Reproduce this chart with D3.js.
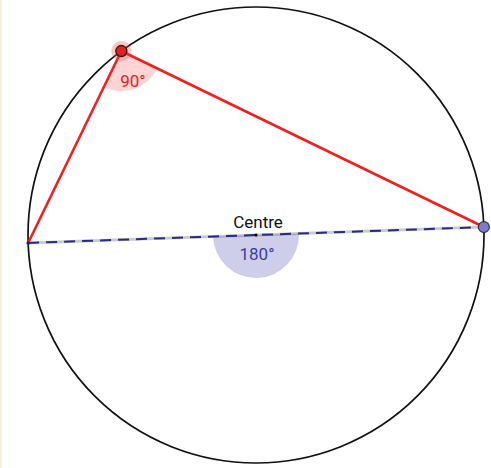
<!DOCTYPE html>
<html>
<head>
<meta charset="utf-8">
<script src="https://cdn.jsdelivr.net/npm/d3@7"></script>
<style>
  html, body { margin: 0; padding: 0; background: #fff; }
  svg { display: block; font-family: Roboto, "Noto Sans", sans-serif; }
</style>
</head>
<body>
<svg id="chart"></svg>
<script>
// points on the unit circle, angles in degrees (counter-clockwise from +x)
const pointNames = ["A", "B", "C"];
const pointAngles = [182, 2, 126.2];
const angleLabels = ["90°", "180°"];
const centreLabel = "Centre";

const width = 491, height = 468;
const cx = 256, cy = 235, R = 228;

const svg = d3.select("#chart").attr("width", width).attr("height", height);

// left border strip
svg.append("rect").attr("x", 0).attr("y", 0).attr("width", 2).attr("height", height).attr("fill", "#fcefe0");

const xScale = d3.scaleLinear().domain([-1, 1]).range([cx - R, cx + R]);
const yScale = d3.scaleLinear().domain([-1, 1]).range([cy + R, cy - R]);

const pts = pointAngles.map((a, i) => {
    const t = a * Math.PI / 180;
    return {name: pointNames[i], x: xScale(Math.cos(t)), y: yScale(Math.sin(t))};
});
const [A, B, C] = pts;
const O = {x: xScale(0), y: yScale(0)};

// d3.arc angle: clockwise from 12 o'clock
function dAngle(from, to) {
    return Math.atan2(to.x - from.x, -(to.y - from.y));
}

// circle
svg.append("circle").attr("cx", O.x).attr("cy", O.y).attr("r", xScale(1) - xScale(0))
    .attr("fill", "none").attr("stroke", "#111").attr("stroke-width", 1.7);

// semicircle at centre (below the diameter)
let s0 = dAngle(O, B), s1 = dAngle(O, A);
if (s1 < s0) s1 += 2 * Math.PI;
svg.append("path").attr("transform", `translate(${O.x},${O.y})`)
    .attr("d", d3.arc().innerRadius(0).outerRadius(43).startAngle(s0).endAngle(s1)())
    .attr("fill", "rgba(60,60,170,0.25)");

// right angle sector at C
let r0 = dAngle(C, B), r1 = dAngle(C, A);
if (r1 < r0) r1 += 2 * Math.PI;
svg.append("path").attr("transform", `translate(${C.x},${C.y})`)
    .attr("d", d3.arc().innerRadius(0).outerRadius(40).startAngle(r0).endAngle(r1)())
    .attr("fill", "rgba(255,60,60,0.22)");

// diameter
svg.append("line").attr("x1", A.x).attr("y1", A.y).attr("x2", B.x).attr("y2", B.y)
    .attr("stroke", "rgba(0,0,0,0.2)").attr("stroke-width", 3);
svg.append("line").attr("x1", A.x).attr("y1", A.y).attr("x2", B.x).attr("y2", B.y)
    .attr("stroke", "#2a2a85").attr("stroke-width", 2).attr("stroke-dasharray", "11,7");

// triangle sides
svg.append("line").attr("x1", A.x).attr("y1", A.y).attr("x2", C.x).attr("y2", C.y)
    .attr("stroke", "#f02020").attr("stroke-width", 2.6);
svg.append("line").attr("x1", C.x).attr("y1", C.y).attr("x2", B.x).attr("y2", B.y)
    .attr("stroke", "#f02020").attr("stroke-width", 2.6);

// centre dot
svg.append("circle").attr("cx", O.x).attr("cy", O.y).attr("r", 1.6).attr("fill", "#000");

// points
svg.append("circle").attr("cx", A.x).attr("cy", A.y).attr("r", 1.8).attr("fill", "#1f1f7a");
svg.append("circle").attr("cx", B.x).attr("cy", B.y).attr("r", 5.5)
    .attr("fill", "#7b7bd0").attr("stroke", "#333").attr("stroke-width", 1.2);
svg.append("circle").attr("cx", C.x).attr("cy", C.y).attr("r", 10).attr("fill", "rgba(255,60,60,0.3)");
svg.append("circle").attr("cx", C.x).attr("cy", C.y).attr("r", 5.5)
    .attr("fill", "#e62020").attr("stroke", "#222").attr("stroke-width", 1.4);

// labels
svg.append("text").attr("x", 133).attr("y", 87).attr("text-anchor", "middle")
    .attr("font-size", 17).attr("fill", "#e02020").text(angleLabels[0]);
svg.append("text").attr("x", O.x + 1).attr("y", 260).attr("text-anchor", "middle")
    .attr("font-size", 17).attr("fill", "#3c3c9c").text(angleLabels[1]);
svg.append("text").attr("x", O.x + 2).attr("y", 228).attr("text-anchor", "middle")
    .attr("font-size", 17).attr("fill", "#111").text(centreLabel);
</script>
</body>
</html>
